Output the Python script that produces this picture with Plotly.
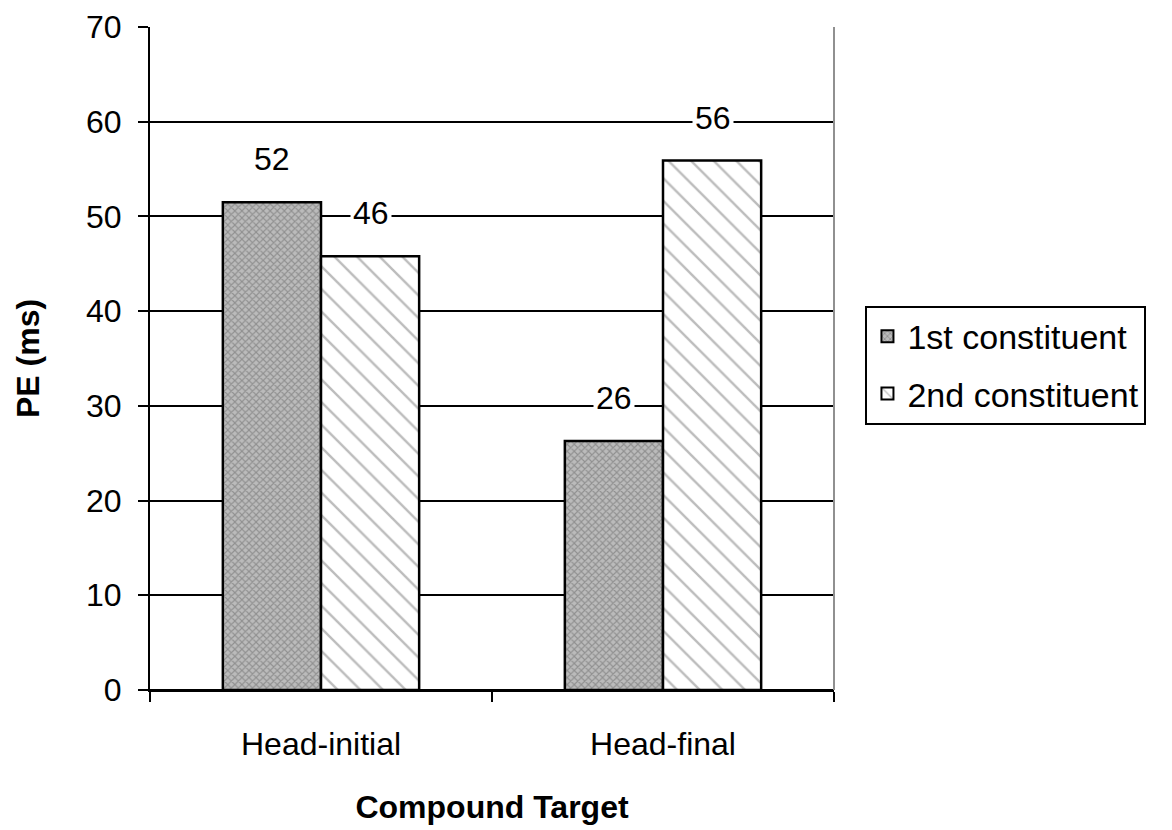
import plotly.graph_objects as go

categories = ["Head-initial", "Head-final"]
series_names = ["1st constituent", "2nd constituent"]
first_vals = [51.5, 26.3]
second_vals = [45.8, 55.9]
y_ticks = [0, 10, 20, 30, 40, 50, 60, 70]

FONT = "Liberation Sans"
FS = 32
fig = go.Figure()
fig.add_trace(go.Bar(
    x=categories, y=first_vals, name=series_names[0], legendgroup="a",
    marker=dict(color="#a8a8a8", line=dict(color="black", width=2.5),
                pattern=dict(shape="x", fgcolor="#666666", bgcolor="#bbbbbb", size=5, solidity=0.4)),
))
fig.add_trace(go.Bar(
    x=categories, y=second_vals, name=series_names[1], legendgroup="b",
    marker=dict(color="white", line=dict(color="black", width=2.5),
                pattern=dict(shape="\\", fgcolor="#7a7a7a", bgcolor="white", size=16, solidity=0.15)),
))

# value labels with white background
bar_px = 99
for vals, sgn in ((first_vals, -1), (second_vals, 1)):
    for c, v in zip(categories, vals):
        fig.add_annotation(x=c, y=v, text=f"{v:.0f}", showarrow=False,
                           xshift=sgn * bar_px / 2, yshift=43, yanchor="middle",
                           bgcolor="white", borderpad=2,
                           font=dict(family=FONT, size=FS, color="black"))

fig.add_shape(type="line", xref="paper", yref="paper", x0=1, x1=1, y0=0, y1=1,
              line=dict(color="#909090", width=2))

fig.update_layout(
    width=1164, height=822,
    margin=dict(l=142, r=338, t=19, b=140),
    paper_bgcolor="white", plot_bgcolor="white",
    barmode="group", bargap=0.426, bargroupgap=0,
    font=dict(family=FONT, size=FS, color="black"),
    showlegend=True,
    legend=dict(x=1.046, y=0.49, xanchor="left", yanchor="middle",
                bordercolor="black", borderwidth=2, bgcolor="white",
                font=dict(family=FONT, size=34), itemsizing="constant",
                traceorder="grouped", tracegroupgap=10, itemwidth=30),
    xaxis=dict(
        title=dict(text="<b>Compound Target</b>", font=dict(family=FONT, size=FS), standoff=34),
        showline=True, linecolor="black", linewidth=2, automargin=False,
        ticks="outside", tickson="boundaries", ticklen=10, tickwidth=2, tickcolor="black",
        ticklabelstandoff=25,
        showgrid=False, tickfont=dict(family=FONT, size=FS),
    ),
    yaxis=dict(
        title=dict(text="<b>PE (ms)</b>", font=dict(family=FONT, size=FS), standoff=37),
        range=[0, 70], tickvals=y_ticks, automargin=False,
        showline=True, linecolor="black", linewidth=2,
        ticks="outside", ticklen=10, tickwidth=2, tickcolor="black",
        ticklabelstandoff=10,
        showgrid=True, gridcolor="black", gridwidth=2,
        zeroline=True, zerolinecolor="black", zerolinewidth=2,
        tickfont=dict(family=FONT, size=FS),
    ),
)
fig.write_html("out.html")
